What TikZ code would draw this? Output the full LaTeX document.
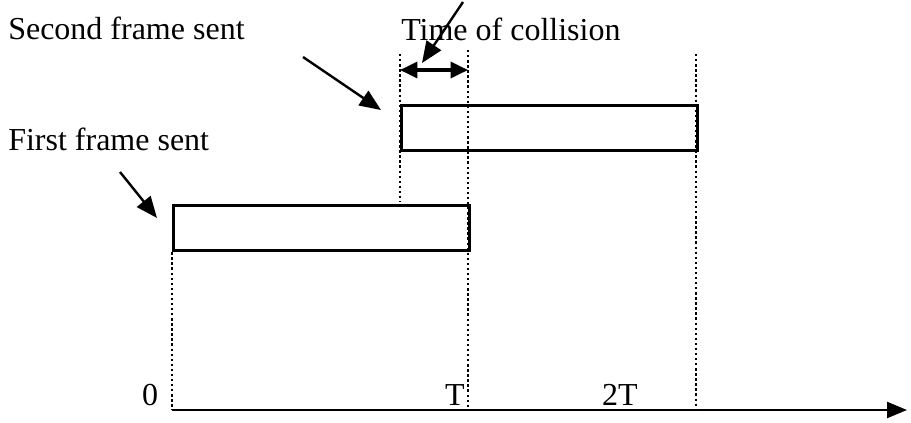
\documentclass[tikz,border=0pt]{standalone}
\usepackage{fontspec}
\setmainfont{Liberation Serif}
\usetikzlibrary{arrows.meta}
\begin{document}
\begin{tikzpicture}[x=0.75pt,y=-0.75pt,
  frame/.style={draw,line width=2.2pt,minimum width=222pt,minimum height=34pt,inner sep=0pt,anchor=north west},
  guide/.style={line width=1.8pt,dotted},
  pointer/.style={line width=1.8pt,-{Triangle[length=16pt,width=13pt]}},
  lbl/.style={font=\fontsize{24}{26}\selectfont,inner sep=0pt}]
\useasboundingbox (0,0) rectangle (911,422);
\node[frame] (f1) at (172,204) {};
\node[frame] (f2) at (400,104) {};
\coordinate (o) at (172,410);
\coordinate (end) at (907,410);
\draw[line width=1.8pt,-{Triangle[length=15pt,width=12pt]}] (o) -- (end);
\draw[guide] (f1.south west) -- (o);
\draw[guide] (400,54) -- (400,202);
\draw[guide] (468,50) -- (468,410);
\draw[guide] (696,54) -- (696,410);
\coordinate (ca) at (400,70);
\coordinate (cb) at (468,70);
\draw[line width=2.4pt,{Triangle[length=13pt,width=12pt]}-{Triangle[length=13pt,width=12pt]}] (ca) -- (cb);
\node[lbl,anchor=base west] (t2) at (8,39) {Second frame sent};
\node[lbl,anchor=base west] (tc) at (401,40) {Time of collision};
\node[lbl,anchor=base west] (t1) at (8,150) {First frame sent};
\node[lbl,anchor=base] (l0) at (150,405) {0};
\node[lbl,anchor=base] (lT) at (455,405) {T};
\node[lbl,anchor=base] (l2T) at (620,405) {2T};
\coordinate (p1) at (120,172);
\coordinate (p2) at (303,57);
\coordinate (p3) at (463,2);
\draw[pointer] (p1) -- (157,218);
\draw[pointer] (p2) -- (381,110);
\draw[pointer] (p3) -- (422,63);
\end{tikzpicture}
\end{document}
